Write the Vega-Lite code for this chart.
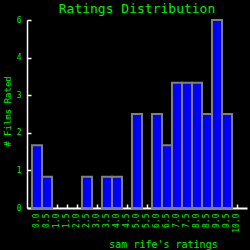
{
  "$schema": "https://vega.github.io/schema/vega-lite/v6.json",
  "width": 220,
  "height": 188,
  "autosize": {"type": "none"},
  "padding": {"left": 27, "top": 20, "right": 3, "bottom": 42},
  "background": "#000000",
  "config": {"view": {"stroke": null}},
  "title": {
    "text": "Ratings Distribution",
    "font": "DejaVu Sans Mono",
    "fontSize": 13,
    "fontWeight": "normal",
    "color": "#00ee00",
    "anchor": "middle",
    "offset": 0
  },
  "data": {
    "values": [
      {"rating": "0.0", "count": 2},
      {"rating": "0.5", "count": 1},
      {"rating": "2.5", "count": 1},
      {"rating": "3.5", "count": 1},
      {"rating": "4.0", "count": 1},
      {"rating": "5.0", "count": 3},
      {"rating": "6.0", "count": 3},
      {"rating": "6.5", "count": 2},
      {"rating": "7.0", "count": 4},
      {"rating": "7.5", "count": 4},
      {"rating": "8.0", "count": 4},
      {"rating": "8.5", "count": 3},
      {"rating": "9.0", "count": 6},
      {"rating": "9.5", "count": 3}
    ]
  },
  "mark": {"type": "bar", "fill": "#0000ff", "stroke": "#808080", "strokeWidth": 2},
  "encoding": {
    "x": {
      "field": "rating",
      "type": "ordinal",
      "scale": {
        "type": "band",
        "domain": ["0.0","0.5","1.0","1.5","2.0","2.5","3.0","3.5","4.0","4.5","5.0","5.5","6.0","6.5","7.0","7.5","8.0","8.5","9.0","9.5","10.0"],
        "paddingInner": 0,
        "paddingOuter": 0.5
      },
      "axis": {
        "title": "sam_rife's ratings",
        "titleFont": "DejaVu Sans Mono",
        "titleFontSize": 10,
        "titleFontWeight": "normal",
        "titleColor": "#00ee00",
        "titleX": 136,
        "titleY": 36,
        "titleAlign": "center",
        "titleBaseline": "middle",
        "labelAngle": 270,
        "labelAlign": "right",
        "labelBaseline": "middle",
        "labelFont": "DejaVu Sans Mono",
        "labelFontSize": 8,
        "labelColor": "#00ee00",
        "labelPadding": 9,
        "tickSize": -4,
        "tickColor": "#ffffff",
        "tickWidth": 1.5,
        "domainColor": "#ffffff",
        "domainWidth": 2,
        "grid": false
      }
    },
    "y": {
      "field": "count",
      "type": "quantitative",
      "scale": {"domain": [0, 6], "nice": false},
      "axis": {
        "title": "# Films Rated",
        "titleFont": "DejaVu Sans Mono",
        "titleFontSize": 9,
        "titleFontWeight": "normal",
        "titleColor": "#00ee00",
        "titleX": -20,
        "titleY": 91,
        "titleAngle": 270,
        "titleAlign": "center",
        "titleBaseline": "middle",
        "values": [0, 1.2, 2.4, 3.6, 4.8, 6],
        "labelExpr": "floor(datum.value)",
        "labelFont": "DejaVu Sans Mono",
        "labelFontSize": 8,
        "labelColor": "#00ee00",
        "labelPadding": 10,
        "tickSize": -4,
        "tickColor": "#ffffff",
        "tickWidth": 1.5,
        "domainColor": "#ffffff",
        "domainWidth": 1.5,
        "grid": false
      }
    }
  }
}
